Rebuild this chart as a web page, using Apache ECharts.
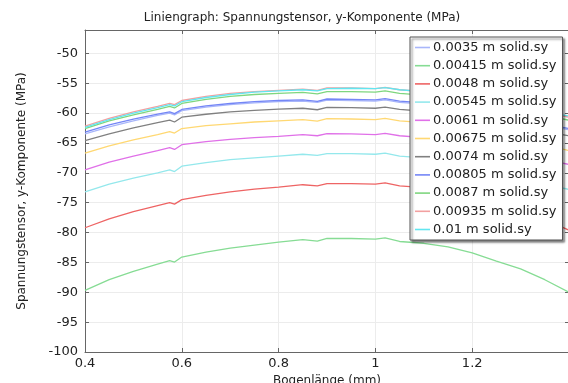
<!DOCTYPE html>
<html>
<head>
<meta charset="utf-8">
<script src="https://cdn.jsdelivr.net/npm/echarts@6/dist/echarts.min.js"></script>
<style>
  html, body { margin: 0; padding: 0; background: #fff; }
  #main { width: 568px; height: 383px; }
</style>
</head>
<body>
<div id="main"></div>
<script>
// Bogenlänge (mm)
var arcLength = [0.4, 0.45, 0.5, 0.55, 0.575, 0.585, 0.6, 0.65, 0.7, 0.75, 0.8, 0.85, 0.88, 0.9, 0.95, 1.0, 1.02, 1.05, 1.1, 1.15, 1.2, 1.25, 1.3, 1.35, 1.4];

var seriesNames = ['0.0035 m solid.sy', '0.00415 m solid.sy', '0.0048 m solid.sy', '0.00545 m solid.sy',
  '0.0061 m solid.sy', '0.00675 m solid.sy', '0.0074 m solid.sy', '0.00805 m solid.sy',
  '0.0087 m solid.sy', '0.00935 m solid.sy', '0.01 m solid.sy'];

var seriesColors = ['#a8b6fa', '#86dc94', '#ee6464', '#94e8ec', '#e070e8', '#ffd872',
  '#808080', '#7486f6', '#7fd67f', '#f2a0a0', '#62e6f0'];

// spannung (MPa), one row per series
var sy0035 = [-63.5, -62.3, -61.3, -60.4, -60.0, -60.3, -59.6, -59.0, -58.6, -58.3, -58.1, -58.0, -58.2, -57.85, -57.9, -58.0, -57.8, -58.2, -58.5, -58.9, -59.5, -60.3, -61.1, -62.0, -62.8];
var sy00415 = [-89.7, -87.9, -86.5, -85.3, -84.7, -84.95, -84.1, -83.3, -82.6, -82.1, -81.6, -81.2, -81.45, -81.0, -81.0, -81.1, -80.9, -81.5, -81.8, -82.4, -83.4, -84.8, -86.1, -87.9, -90.0];
var sy0048 = [-79.2, -77.7, -76.5, -75.5, -75.0, -75.25, -74.5, -73.8, -73.2, -72.75, -72.4, -72.0, -72.2, -71.8, -71.8, -71.9, -71.7, -72.2, -72.5, -73.0, -73.8, -75.0, -76.2, -77.8, -79.6];
var sy00545 = [-73.2, -71.9, -70.9, -70.0, -69.5, -69.8, -68.9, -68.3, -67.8, -67.5, -67.2, -66.9, -67.1, -66.8, -66.8, -66.9, -66.7, -67.2, -67.5, -67.9, -68.6, -69.6, -70.6, -71.9, -72.8];
var sy0061 = [-69.5, -68.2, -67.2, -66.3, -65.8, -66.1, -65.3, -64.8, -64.4, -64.1, -63.9, -63.6, -63.8, -63.45, -63.5, -63.6, -63.4, -63.8, -64.1, -64.5, -65.1, -66.0, -66.9, -67.8, -68.6];
var sy00675 = [-66.7, -65.5, -64.5, -63.6, -63.1, -63.35, -62.6, -62.1, -61.8, -61.5, -61.3, -61.1, -61.35, -60.95, -61.0, -61.1, -60.9, -61.3, -61.6, -62.0, -62.6, -63.5, -64.4, -65.3, -66.3];
var sy0074 = [-64.6, -63.5, -62.5, -61.6, -61.2, -61.5, -60.7, -60.2, -59.8, -59.55, -59.35, -59.2, -59.45, -59.05, -59.1, -59.2, -59.0, -59.4, -59.7, -60.1, -60.7, -61.5, -62.3, -63.1, -63.8];
var sy00805 = [-63.2, -62.0, -61.0, -60.2, -59.8, -60.1, -59.4, -58.8, -58.4, -58.1, -57.9, -57.8, -58.05, -57.65, -57.7, -57.8, -57.6, -58.0, -58.3, -58.7, -59.3, -60.1, -60.9, -61.8, -62.6];
var sy0087 = [-62.6, -61.3, -60.3, -59.4, -58.9, -59.15, -58.4, -57.7, -57.2, -56.9, -56.7, -56.55, -56.8, -56.4, -56.4, -56.5, -56.3, -56.7, -57.0, -57.4, -58.0, -58.8, -59.6, -60.4, -61.2];
var sy00935 = [-62.2, -60.9, -59.8, -58.9, -58.4, -58.6, -57.9, -57.2, -56.7, -56.4, -56.2, -56.0, -56.2, -55.8, -55.8, -55.9, -55.7, -56.1, -56.4, -56.8, -57.4, -58.2, -59.0, -59.9, -60.7];
var sy001 = [-62.4, -61.1, -60.0, -59.1, -58.6, -58.8, -58.1, -57.4, -56.9, -56.5, -56.3, -56.1, -56.3, -55.9, -55.85, -55.9, -55.75, -56.1, -56.4, -56.8, -57.4, -58.2, -59.0, -59.8, -60.5];

var seriesValues = [sy0035, sy00415, sy0048, sy00545, sy0061, sy00675, sy0074, sy00805, sy0087, sy00935, sy001];

var font = 'DejaVu Sans';
// thin bar used as legend line
var lineIcon = 'path://M0,0 L15,0 L15,1.6 L0,1.6 Z';
var chart = echarts.init(document.getElementById('main'), null, { renderer: 'canvas' });

function buildSeries() {
  var list = [];
  seriesNames.forEach(function (name, i) {
    var data = arcLength.map(function (x, j) {
      return [x, seriesValues[i][j]];
    });
    list.push({
      name: name,
      type: 'line',
      data: data,
      symbol: 'none',
      animation: false,
      xAxisIndex: 0,
      yAxisIndex: 0,
      lineStyle: { color: seriesColors[i], width: 1.3 },
      itemStyle: { color: seriesColors[i] }
    });
  });
  return list;
}

var option = {
  backgroundColor: '#ffffff',
  animation: false,
  textStyle: { fontFamily: font },
  title: {
    text: 'Liniengraph: Spannungstensor, y-Komponente (MPa)',
    left: 302,
    top: 12,
    padding: 0,
    textAlign: 'center',
    textStyle: { fontFamily: font, fontSize: 12, fontWeight: 'normal', color: '#222' }
  },
  grid: {
    left: 85,
    top: 30,
    right: -1,
    bottom: 31,
    outerBoundsMode: 'none',
    containLabel: false,
    show: false
  },
  legend: {
    orient: 'vertical',
    left: 410,
    top: 37,
    padding: [4, 6, 4, 5],
    itemWidth: 15,
    itemHeight: 14,
    itemGap: 5.2,
    icon: lineIcon,
    backgroundColor: '#ffffff',
    borderColor: '#555',
    borderWidth: 1,
    shadowColor: 'rgba(0,0,0,0.5)',
    shadowBlur: 2,
    shadowOffsetX: 2,
    shadowOffsetY: 2,
    textStyle: { fontFamily: font, fontSize: 13, color: '#222', padding: [0, 0, 0, -2] },
    data: seriesNames
  },
  xAxis: [{
    type: 'value',
    min: 0.4,
    max: 1.4,
    interval: 0.2,
    name: 'Bogenlänge (mm)',
    nameLocation: 'middle',
    nameGap: 19,
    nameTextStyle: { fontFamily: font, fontSize: 12, color: '#222' },
    axisLine: { show: true, lineStyle: { color: '#666', width: 1 } },
    axisTick: { show: true, inside: true, length: 4, lineStyle: { color: '#666' } },
    axisLabel: { fontFamily: font, fontSize: 13, color: '#222', margin: 5, showMaxLabel: false },
    splitLine: { show: true, lineStyle: { color: '#ececec', width: 1 } }
  }, {
    type: 'value',
    position: 'top',
    min: 0.4,
    max: 1.4,
    interval: 0.2,
    axisLine: { show: true, lineStyle: { color: '#666', width: 1 } },
    axisTick: { show: true, inside: true, length: 4, lineStyle: { color: '#666' } },
    axisLabel: { show: false },
    splitLine: { show: false }
  }],
  yAxis: [{
    type: 'value',
    min: -100,
    max: -46.1,
    interval: 5,
    name: 'Spannungstensor, y-Komponente (MPa)',
    nameLocation: 'middle',
    nameGap: 57,
    nameTextStyle: { fontFamily: font, fontSize: 12, color: '#222' },
    axisLine: { show: true, lineStyle: { color: '#666', width: 1 } },
    axisTick: { show: true, inside: true, length: 4, lineStyle: { color: '#666' } },
    axisLabel: { fontFamily: font, fontSize: 13, color: '#222', margin: 7, showMaxLabel: false },
    splitLine: { show: true, lineStyle: { color: '#ececec', width: 1 } }
  }, {
    type: 'value',
    position: 'right',
    min: -100,
    max: -46.1,
    interval: 5,
    axisLine: { show: true, lineStyle: { color: '#666', width: 1 } },
    axisTick: { show: true, inside: true, length: 4, lineStyle: { color: '#666' } },
    axisLabel: { show: false },
    splitLine: { show: false }
  }],
  series: buildSeries()
};

chart.setOption(option);
</script>
</body>
</html>
